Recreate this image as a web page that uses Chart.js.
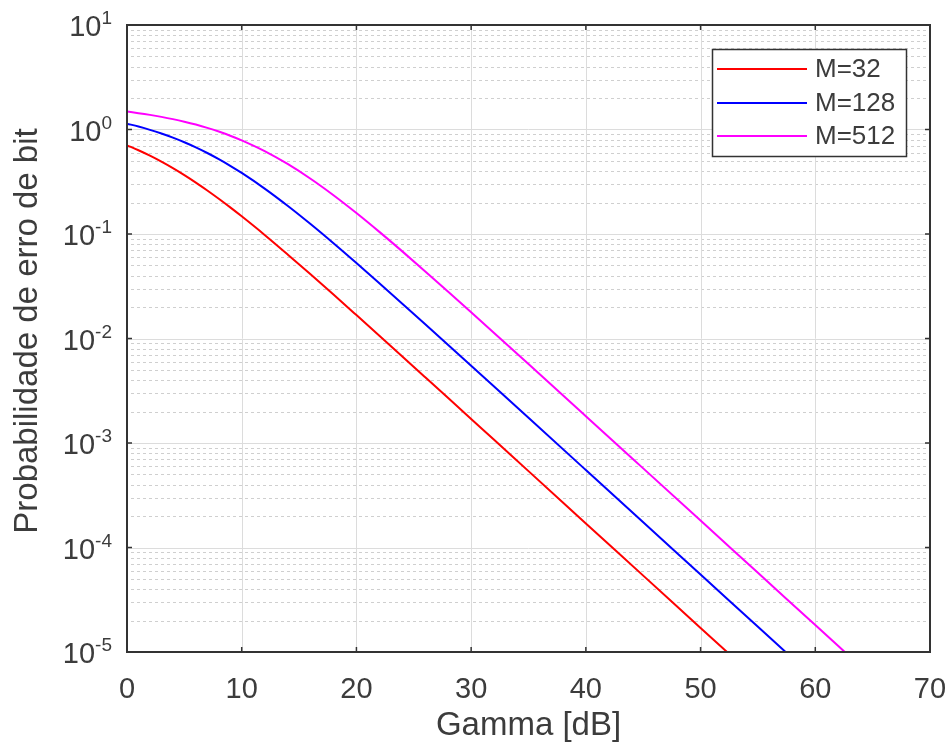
<!DOCTYPE html>
<html>
<head>
<meta charset="utf-8">
<script src="https://cdn.jsdelivr.net/npm/chart.js@4.4.1/dist/chart.umd.min.js"></script>
<style>
  html, body { margin: 0; padding: 0; background: #ffffff; }
  #wrap { width: 952px; height: 749px; }
</style>
</head>
<body>
<div id="wrap"><canvas id="c" width="952" height="749"></canvas></div>
<script>
// ---- data ----
const gammaDb = [0,1,2,3,4,5,6,7,8,9,10,12,14,16,18,20,22,24,26,28,30,32,35,40,45,50,55,60,65,70];
const berM32  = [0.706,0.6334,0.5618,0.4925,0.4270,0.3660,0.3106,0.2611,0.2175,0.1798,0.1476,0.0980,0.0638,0.04115,0.02631,0.01674,0.01063,0.006732,0.004257,0.002690,0.001699,0.0010722,0.000538,0.0001701,5.380e-5,1.701e-5,5.380e-6,1.701e-6,5.38e-7,1.70e-7];
const berM128 = [1.1365,1.0664,0.9924,0.9151,0.8355,0.7549,0.6745,0.5959,0.5204,0.4495,0.3840,0.2721,0.1864,0.1245,0.08157,0.05275,0.03382,0.02156,0.013693,0.008675,0.005488,0.003469,0.001741,0.0005511,0.00017434,5.513e-5,1.7434e-5,5.513e-6,1.743e-6,5.51e-7];
const berM512 = [1.4834,1.4342,1.3802,1.3212,1.2573,1.1883,1.1147,1.0369,0.9557,0.8722,0.7876,0.6211,0.4680,0.3378,0.2350,0.1587,0.1048,0.06819,0.04387,0.02804,0.017837,0.011312,0.005695,0.0018064,0.0005718,0.00018089,5.720e-5,1.809e-5,5.72e-6,1.81e-6];
const seriesLabels = ['M=32','M=128','M=512'];
const xTickValues = [0,10,20,30,40,50,60,70];
const yTickExponents = [1,0,-1,-2,-3,-4,-5];
const xAxisTitle = 'Gamma [dB]';
const yAxisTitle = 'Probabilidade de erro de bit';

// ---- styles ----
const seriesColors = ['#ff0000','#0000ff','#ff00ff'];
const TXT = '#3c3c3c';
const FONT = 'Arial, "Liberation Sans", Helvetica, sans-serif';

function toPoints(ys) { return gammaDb.map((x, i) => ({ x: x, y: ys[i] })); }

const matlabPlugin = {
  id: 'matlabLook',
  beforeDatasetsDraw(chart) {
    const ctx = chart.ctx, a = chart.chartArea;
    const xs = chart.scales.x, ys = chart.scales.y;
    ctx.save();
    // minor horizontal grid (dotted)
    ctx.strokeStyle = 'rgba(130,130,130,0.38)';
    ctx.lineWidth = 1;
    ctx.setLineDash([3, 3]);
    for (let e = yTickExponents[yTickExponents.length - 1]; e < yTickExponents[0]; e++) {
      for (let m = 2; m <= 9; m++) {
        const py = Math.round(ys.getPixelForValue(m * Math.pow(10, e))) + 0.5;
        ctx.beginPath(); ctx.moveTo(a.left + 4, py); ctx.lineTo(a.right, py); ctx.stroke();
      }
    }
    ctx.setLineDash([]);
    // major grid
    ctx.strokeStyle = '#dcdcdc';
    ctx.lineWidth = 1;
    xTickValues.forEach(v => {
      const px = Math.round(xs.getPixelForValue(v)) + 0.5;
      ctx.beginPath(); ctx.moveTo(px, a.top); ctx.lineTo(px, a.bottom); ctx.stroke();
    });
    yTickExponents.forEach(e => {
      const py = Math.round(ys.getPixelForValue(Math.pow(10, e))) + 0.5;
      ctx.beginPath(); ctx.moveTo(a.left, py); ctx.lineTo(a.right, py); ctx.stroke();
    });
    ctx.restore();
  },
  afterDatasetsDraw(chart) {
    const ctx = chart.ctx, a = chart.chartArea;
    const xs = chart.scales.x, ys = chart.scales.y;
    ctx.save();
    // tick marks (inside, all four sides)
    ctx.strokeStyle = '#333333';
    ctx.lineWidth = 1.5;
    const tl = 5;
    xTickValues.forEach(v => {
      const px = xs.getPixelForValue(v);
      ctx.beginPath(); ctx.moveTo(px, a.bottom); ctx.lineTo(px, a.bottom - tl); ctx.stroke();
      ctx.beginPath(); ctx.moveTo(px, a.top); ctx.lineTo(px, a.top + tl); ctx.stroke();
    });
    yTickExponents.forEach(e => {
      const py = ys.getPixelForValue(Math.pow(10, e));
      ctx.beginPath(); ctx.moveTo(a.left, py); ctx.lineTo(a.left + tl, py); ctx.stroke();
      ctx.beginPath(); ctx.moveTo(a.right, py); ctx.lineTo(a.right - tl, py); ctx.stroke();
    });
    // axes box
    ctx.strokeStyle = '#333333';
    ctx.lineWidth = 2;
    ctx.strokeRect(a.left, a.top, a.right - a.left, a.bottom - a.top);

    // legend box
    const lx = 712, ly = 49, lw = 194, lh = 107;
    ctx.fillStyle = '#ffffff';
    ctx.fillRect(lx, ly, lw, lh);
    ctx.strokeStyle = '#333333';
    ctx.lineWidth = 1.5;
    ctx.strokeRect(lx + 0.5, ly + 0.5, lw, lh);
    const rowY = [69, 103, 136];
    chart.data.datasets.forEach((ds, i) => {
      ctx.strokeStyle = ds.borderColor;
      ctx.lineWidth = 2;
      ctx.beginPath(); ctx.moveTo(717, rowY[i]); ctx.lineTo(807, rowY[i]); ctx.stroke();
      ctx.fillStyle = TXT;
      ctx.font = '26px ' + FONT;
      ctx.textAlign = 'left';
      ctx.textBaseline = 'middle';
      ctx.fillText(ds.label, 815, rowY[i] + 1);
    });
    ctx.restore();
  },
  afterDraw(chart) {
    const ctx = chart.ctx, a = chart.chartArea;
    const xs = chart.scales.x, ys = chart.scales.y;
    ctx.save();
    ctx.fillStyle = TXT;
    // x tick labels
    ctx.font = '29px ' + FONT;
    ctx.textAlign = 'center';
    ctx.textBaseline = 'alphabetic';
    xTickValues.forEach(v => {
      ctx.fillText(String(v), xs.getPixelForValue(v), 698);
    });
    // y tick labels: 10 with superscript exponent
    const rightEdge = 112;
    yTickExponents.forEach(e => {
      const py = ys.getPixelForValue(Math.pow(10, e));
      const expStr = e < 0 ? '-' + Math.abs(e) : String(e);
      ctx.font = '19px ' + FONT;
      const ew = ctx.measureText(expStr).width;
      ctx.textAlign = 'right';
      ctx.textBaseline = 'alphabetic';
      ctx.fillText(expStr, rightEdge, py - 1);
      ctx.font = '29px ' + FONT;
      ctx.fillText('10', rightEdge - ew, py + 11);
    });
    // axis titles
    ctx.font = '33px ' + FONT;
    ctx.textAlign = 'center';
    ctx.textBaseline = 'alphabetic';
    ctx.fillText(xAxisTitle, (a.left + a.right) / 2, 735);
    ctx.translate(37, 331);
    ctx.rotate(-Math.PI / 2);
    ctx.fillText(yAxisTitle, 0, 0);
    ctx.restore();
  }
};

const ctx = document.getElementById('c').getContext('2d');
new Chart(ctx, {
  type: 'line',
  data: {
    datasets: [
      { label: seriesLabels[0], data: toPoints(berM32),  borderColor: seriesColors[0] },
      { label: seriesLabels[1], data: toPoints(berM128), borderColor: seriesColors[1] },
      { label: seriesLabels[2], data: toPoints(berM512), borderColor: seriesColors[2] }
    ].map(d => Object.assign(d, {
      borderWidth: 2, pointRadius: 0, fill: false, cubicInterpolationMode: 'monotone', clip: 0
    }))
  },
  options: {
    responsive: false,
    animation: false,
    devicePixelRatio: 1,
    layout: { padding: { left: 0, right: 22, top: 25, bottom: 0 } },
    plugins: { legend: { display: false }, tooltip: { enabled: false }, title: { display: false } },
    scales: {
      x: {
        type: 'linear', min: 0, max: 70,
        ticks: { display: false, stepSize: 10 },
        grid: { display: false }, border: { display: false },
        afterFit(s) { s.height = 97; }
      },
      y: {
        type: 'logarithmic', min: 1e-5, max: 10,
        ticks: { display: false },
        grid: { display: false }, border: { display: false },
        afterFit(s) { s.width = 127; }
      }
    }
  },
  plugins: [matlabPlugin]
});
</script>
</body>
</html>
